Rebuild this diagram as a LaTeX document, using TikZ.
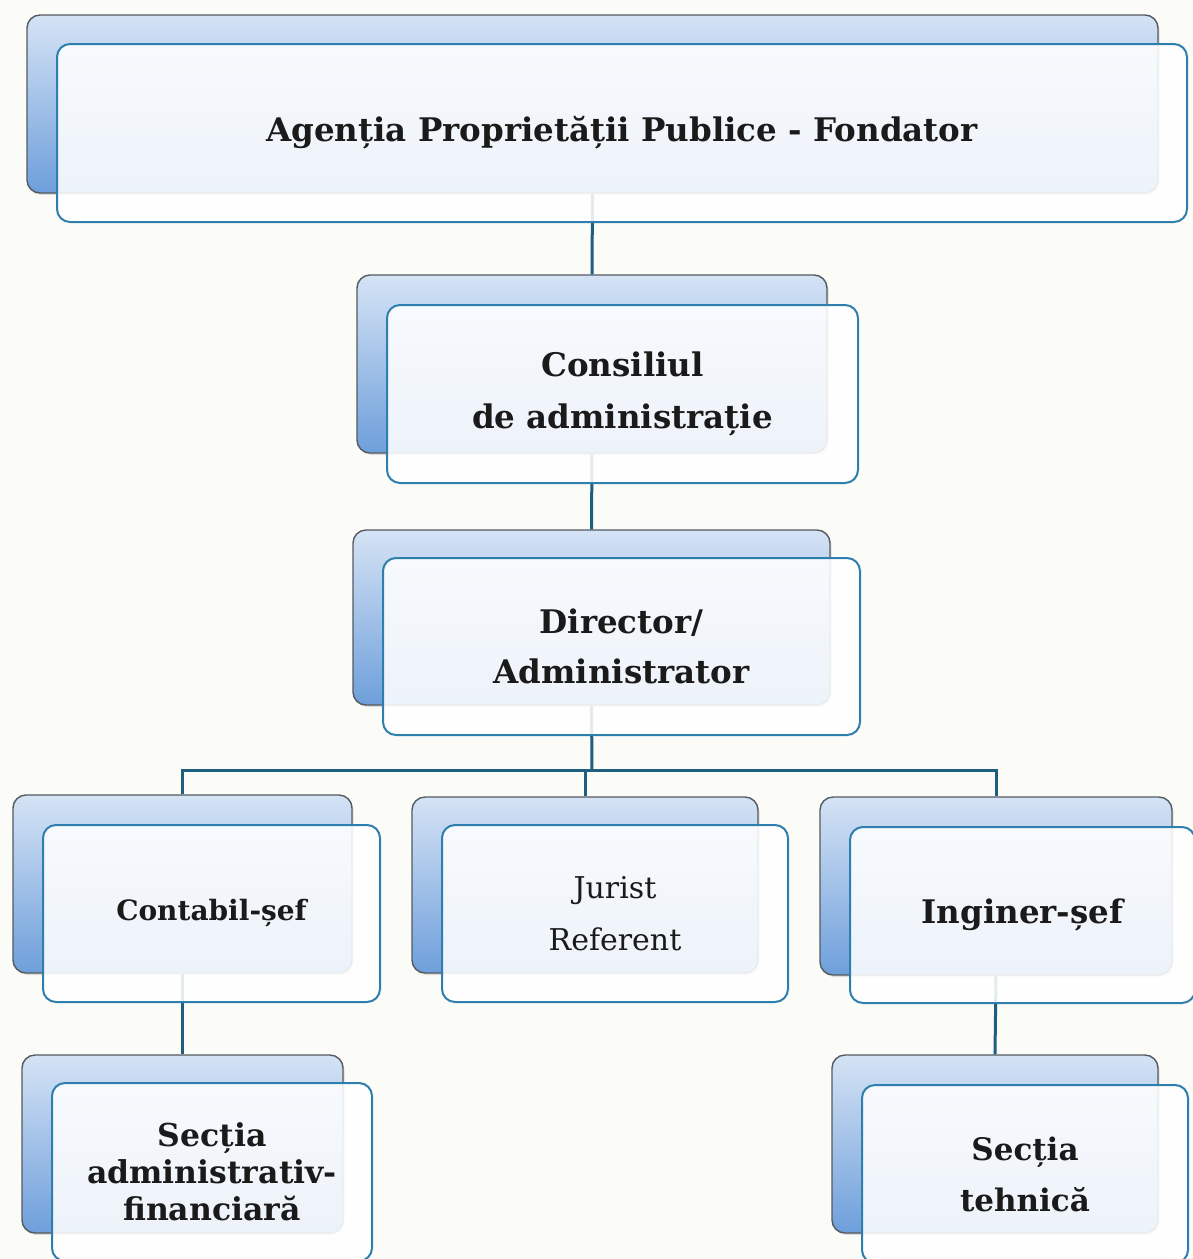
\documentclass[tikz,border=0pt]{standalone}
\usepackage{fontspec}
\setmainfont{DejaVu Serif}
\usetikzlibrary{shadows}
\definecolor{bgcol}{HTML}{FBFBF8}
\definecolor{backtop}{HTML}{D5E3F5}
\definecolor{backbot}{HTML}{6E9FDB}
\definecolor{backedge}{HTML}{555A60}
\definecolor{frontedge}{HTML}{2F7FAE}
\definecolor{linkcol}{HTML}{1E5E7E}
\definecolor{txtcol}{HTML}{1A1A1A}
\tikzset{
  backbox/.style={rectangle, rounded corners=13pt, draw=backedge, line width=1.4pt,
    top color=backtop, bottom color=backbot, inner sep=0pt,
    drop shadow={opacity=0.25, shadow xshift=1.5pt, shadow yshift=-2pt}},
  frontbox/.style={rectangle, rounded corners=13pt, draw=frontedge, line width=2pt,
    fill=white, fill opacity=0.88, text opacity=1, text=txtcol, align=center, inner sep=0pt},
  link/.style={draw=linkcol, line width=3pt}
}
\begin{document}
\begin{tikzpicture}[x=1pt,y=-1pt]
\useasboundingbox (0,0) rectangle (1193,1259);
\begin{scope}
\clip (0,0) rectangle (1193,1259);
\fill[bgcol] (0,0) rectangle (1193,1259);
% back boxes
\node[backbox, minimum width=1131pt, minimum height=178pt] (topB) at (592.5,104) {};
\node[backbox, minimum width=470pt, minimum height=178pt] (consB) at (592,364) {};
\node[backbox, minimum width=477pt, minimum height=175pt] (dirB) at (591.5,617.5) {};
\node[backbox, minimum width=339pt, minimum height=178pt] (contB) at (182.5,884) {};
\node[backbox, minimum width=346pt, minimum height=176pt] (jurB) at (585,885) {};
\node[backbox, minimum width=352pt, minimum height=178pt] (ingB) at (996,886) {};
\node[backbox, minimum width=321pt, minimum height=178pt] (safB) at (182.5,1144) {};
\node[backbox, minimum width=326pt, minimum height=178pt] (stB) at (995,1144) {};
% connectors
\coordinate (bus) at (592,770);
\draw[link] (topB.south) -- (consB.north);
\draw[link] (consB.south) -- (dirB.north);
\draw[link] (dirB.south) -- (bus);
\draw[link] (contB.north) |- (bus) -| (ingB.north);
\draw[link] (jurB.north) -- (jurB.north |- bus);
\draw[link] (contB.south) -- (safB.north);
\draw[link] (ingB.south) -- (stB.north);
% front boxes
\node[frontbox, minimum width=1130pt, minimum height=178pt,
  font={\fontsize{32.5}{40}\selectfont\bfseries}] (topF) at (622,133)
  {Agenția Proprietății Publice - Fondator};
\node[frontbox, minimum width=471pt, minimum height=178pt,
  font={\fontsize{32.5}{52}\selectfont\bfseries}] (consF) at (622.5,394)
  {Consiliul\\ de administrație};
\node[frontbox, minimum width=477pt, minimum height=177pt,
  font={\fontsize{32.5}{50}\selectfont\bfseries}] (dirF) at (621.5,646.5)
  {Director/\\ Administrator};
\node[frontbox, minimum width=337pt, minimum height=177pt,
  font={\fontsize{28}{34}\selectfont\bfseries}] (contF) at (211.5,913.5)
  {Contabil-șef};
\node[frontbox, minimum width=346pt, minimum height=177pt,
  font={\fontsize{30}{52}\selectfont}] (jurF) at (615,913.5)
  {Jurist\\ Referent};
\node[frontbox, minimum width=345pt, minimum height=176pt,
  font={\fontsize{32.5}{38}\selectfont\bfseries}] (ingF) at (1022.5,915)
  {Inginer-șef};
\node[frontbox, minimum width=320pt, minimum height=178pt,
  font={\fontsize{31.5}{37}\selectfont\bfseries}] (safF) at (212,1172)
  {Secția\\ administrativ-\\ financiară};
\node[frontbox, minimum width=326pt, minimum height=178pt,
  font={\fontsize{31}{51}\selectfont\bfseries}] (stF) at (1025,1174)
  {Secția\\ tehnică};
\end{scope}
\end{tikzpicture}
\end{document}
